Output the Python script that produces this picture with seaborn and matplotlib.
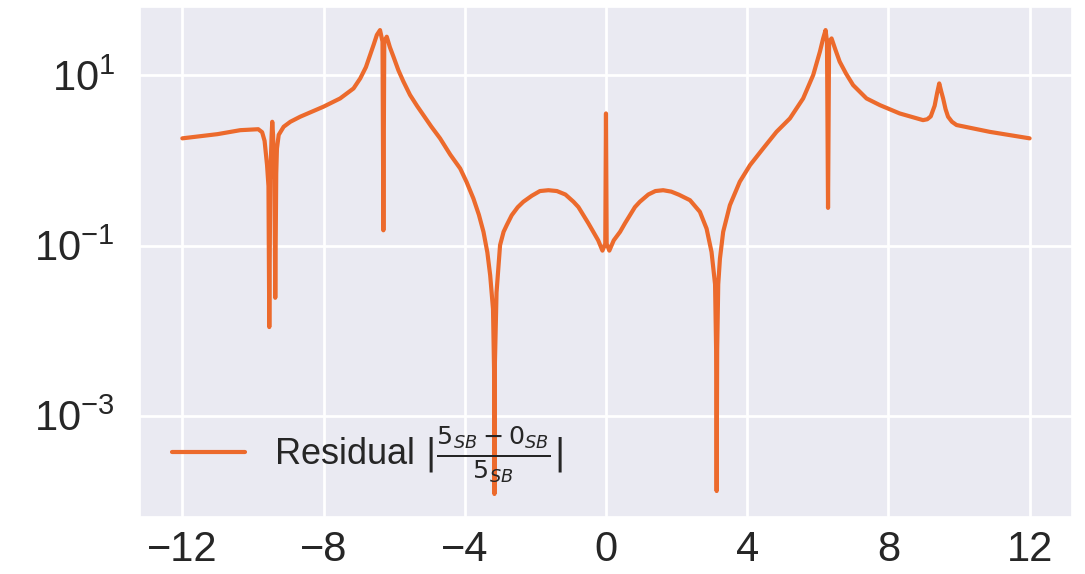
import numpy as np
import pandas as pd
import matplotlib
matplotlib.use("Agg")
import matplotlib.pyplot as plt
import seaborn as sns
from matplotlib.ticker import FixedLocator

# residual curve, values
x_vals = [
    -12.0, -11.0, -10.36, -9.85, -9.74, -9.67, -9.60, -9.56, -9.537, -9.51,
    -9.47, -9.453, -9.43, -9.39, -9.368, -9.34, -9.32, -9.27, -9.13, -8.94,
    -8.66, -8.0, -7.53, -7.15, -6.96, -6.80, -6.68, -6.58, -6.49, -6.40,
    -6.33, -6.305, -6.28, -6.21, -6.12, -6.02, -5.88, -5.74, -5.55, -5.35,
    -5.17, -4.95, -4.70, -4.41, -4.13, -3.95, -3.755, -3.60, -3.47, -3.36,
    -3.28, -3.20, -3.17, -3.16, -3.15, -3.10, -3.0, -2.90, -2.81, -2.67,
    -2.50, -2.34, -2.10, -1.87, -1.63, -1.39, -1.15, -0.92, -0.78, -0.64,
    -0.50, -0.36, -0.22, -0.10, -0.02, 0.0, 0.02, 0.095, 0.22, 0.40,
    0.54, 0.68, 0.82, 0.96, 1.20, 1.40, 1.62, 1.85, 2.07, 2.38,
    2.66, 2.85, 2.99, 3.09, 3.12, 3.135, 3.15, 3.18, 3.228, 3.32,
    3.51, 3.79, 4.08, 4.45, 4.83, 5.21, 5.585, 5.87, 6.06, 6.15,
    6.22, 6.26, 6.29, 6.32, 6.39, 6.50, 6.62, 6.80, 7.0, 7.38,
    7.76, 8.32, 8.98, 9.10, 9.20, 9.31, 9.38, 9.44, 9.50, 9.55,
    9.62, 9.69, 9.80, 9.93, 10.4, 10.87, 11.4, 12.0,
]
residual = [
    1.82, 2.04, 2.27, 2.33, 2.15, 1.70, 0.88, 0.50, 0.011, 0.60,
    2.0, 2.85, 2.0, 0.60, 0.0243, 0.70, 1.38, 2.0, 2.49, 2.85,
    3.27, 4.29, 5.36, 7.03, 9.23, 12.5, 17.4, 23.0, 29.9, 34.1,
    25.0, 0.151, 25.0, 28.5, 21.4, 16.6, 11.5, 8.51, 5.89, 4.37,
    3.41, 2.51, 1.82, 1.17, 0.805, 0.56, 0.357, 0.230, 0.145, 0.083,
    0.0447, 0.018, 0.0035, 0.00012, 0.0035, 0.028, 0.101, 0.145, 0.174, 0.227,
    0.282, 0.327, 0.385, 0.437, 0.447, 0.437, 0.398, 0.327, 0.283, 0.227,
    0.183, 0.145, 0.115, 0.0871, 0.105, 3.57, 0.105, 0.0871, 0.115, 0.145,
    0.183, 0.227, 0.283, 0.327, 0.398, 0.437, 0.447, 0.430, 0.395, 0.341,
    0.249, 0.158, 0.084, 0.035, 0.006, 0.00013, 0.006, 0.035, 0.070, 0.145,
    0.298, 0.562, 0.881, 1.38, 2.17, 3.12, 5.36, 10.1, 19.0, 27.0,
    34.1, 25.0, 0.277, 25.0, 27.2, 20.0, 14.5, 10.5, 7.69, 5.36,
    4.47, 3.57, 2.98, 3.05, 3.30, 4.40, 6.2, 8.05, 6.4, 5.36,
    4.0, 3.27, 2.85, 2.61, 2.38, 2.17, 2.00, 1.82,
]
assert len(x_vals) == len(residual)

x_ticks = [-12, -8, -4, 0, 4, 8, 12]
y_ticks = [1e-3, 1e-1, 1e1]
label = r"Residual $|\frac{5_{SB} - 0_{SB}}{5_{SB}}|$"

sns.set_theme(style="darkgrid", rc={"grid.linewidth": 2.0})
plt.rcParams["font.family"] = ["Liberation Sans", "DejaVu Sans"]

df = pd.DataFrame({"x": x_vals, "residual": residual})

fig = plt.figure(figsize=(10.85, 5.74), dpi=100)
ax = fig.add_axes([0.129, 0.099, 0.859, 0.889])

sns.lineplot(data=df, x="x", y="residual", ax=ax, color="#ec6a2c",
             linewidth=3, label=label)

ax.set_yscale("log")
ax.xaxis.set_major_locator(FixedLocator(x_ticks))
ax.yaxis.set_major_locator(FixedLocator(y_ticks))
ax.yaxis.set_minor_locator(FixedLocator([]))
ax.set_xlabel("")
ax.set_ylabel("")
ax.tick_params(labelsize=30)
ax.tick_params(axis="y", pad=12)

ax.legend(loc="lower left", frameon=False, fontsize=26)

fig.savefig("out.png", dpi=100)
